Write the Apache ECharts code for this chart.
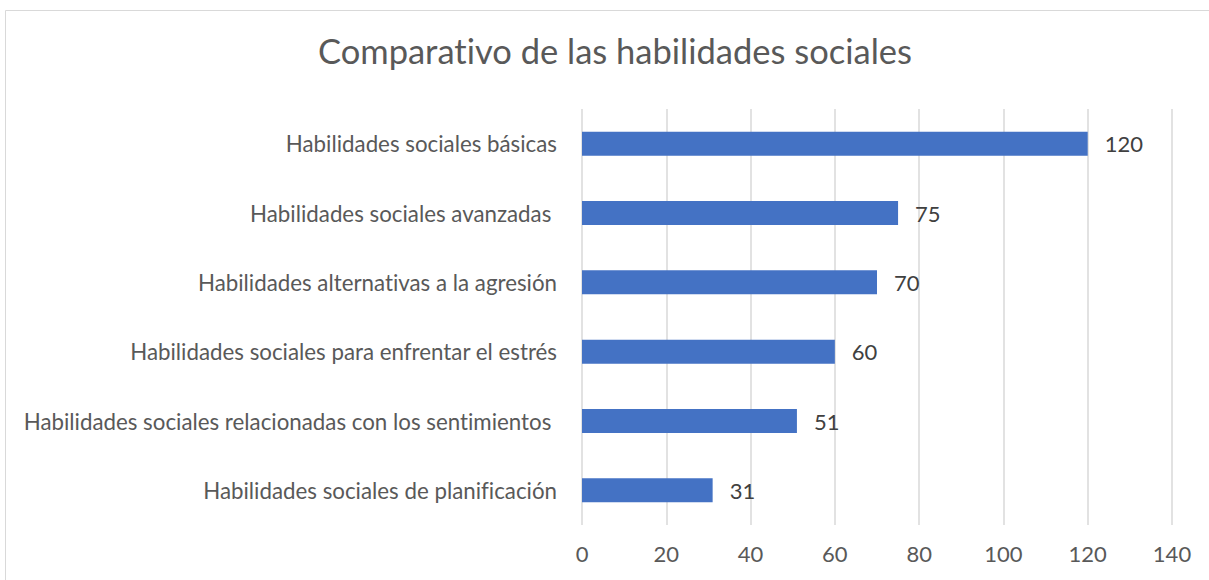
<!DOCTYPE html>
<html>
<head>
<meta charset="utf-8">
<script src="https://cdn.jsdelivr.net/npm/echarts@6/dist/echarts.min.js"></script>
<style>
  html, body { margin: 0; padding: 0; background: #fff; }
  #chart { width: 1209px; height: 580px; }
  #chart text { font-variant-ligatures: none; }
</style>
</head>
<body>
<div id="chart"></div>
<script>
const categories = [
  'Habilidades sociales básicas',
  'Habilidades sociales avanzadas ',
  'Habilidades alternativas a la agresión',
  'Habilidades sociales para enfrentar el estrés',
  'Habilidades sociales relacionadas con los sentimientos ',
  'Habilidades sociales de planificación'
]
const values = [120, 75, 70, 60, 51, 31]
const xTicks = [0, 20, 40, 60, 80, 100, 120, 140]

const font = 'Lato'
const chart = echarts.init(document.getElementById('chart'), null, { renderer: 'svg' })

chart.setOption({
  animation: false,
  backgroundColor: '#fff',
  title: {
    text: 'Comparativo de las habilidades sociales',
    left: 318,
    top: 33,
    padding: 0,
    textStyle: { fontFamily: font, fontSize: 34.5, fontWeight: 'normal', color: '#595959' }
  },
  graphic: [
    {
      type: 'rect',
      shape: { x: 5.5, y: 10.5, width: 1400, height: 800 },
      style: { fill: 'none', stroke: '#d9d9d9', lineWidth: 1 },
      silent: true
    }
  ],
  grid: { left: 582, right: 37, top: 109, bottom: 55, containLabel: false },
  xAxis: {
    type: 'value',
    min: xTicks[0],
    max: xTicks[xTicks.length - 1],
    interval: 20,
    axisLine: { show: false },
    axisTick: { show: false },
    axisLabel: { fontFamily: font, fontSize: 22, color: '#595959', margin: 17 },
    splitLine: { show: true, lineStyle: { color: '#d9d9d9', width: 1.5 } }
  },
  yAxis: {
    type: 'category',
    inverse: true,
    data: categories,
    axisLine: { show: false },
    axisTick: { show: false },
    axisLabel: { fontFamily: font, fontSize: 22.3, color: '#595959', margin: 25 }
  },
  series: [
    {
      type: 'bar',
      data: values,
      barWidth: 24,
      itemStyle: { color: '#4472c4' },
      label: {
        show: true,
        position: 'right',
        distance: 17,
        fontFamily: font,
        fontSize: 22,
        color: '#404040'
      }
    }
  ]
})
</script>
</body>
</html>
